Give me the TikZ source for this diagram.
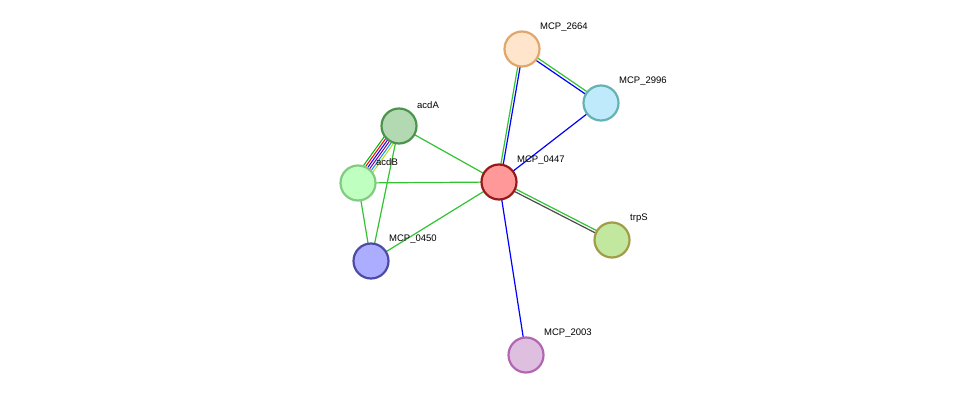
\documentclass[tikz,border=0pt]{standalone}
\usepackage{fontspec}
\setmainfont{Liberation Sans}
\begin{document}
\begin{tikzpicture}[x=1pt,y=-1pt,
  nd/.style={circle,minimum size=35pt,inner sep=0pt,line width=2.2pt},
  lb/.style={font=\fontsize{9.5}{11}\selectfont,anchor=south west,inner sep=1pt},
  e/.style={line width=1.2pt}]
\useasboundingbox (0,0) rectangle (976,401);
\coordinate (p2664) at (522,49);
\coordinate (p2996) at (601,103);
\coordinate (pA) at (399,126);
\coordinate (pB) at (358,183);
\coordinate (p0447) at (499,182);
\coordinate (ptrp) at (612,240);
\coordinate (p0450) at (371,261);
\coordinate (p2003) at (526,355);
% edges
\draw[e,green!70!black!80] ([xshift=-1.2pt]p2664) -- ([xshift=-1.2pt]p0447);
\draw[e,blue] ([xshift=1.2pt]p2664) -- ([xshift=1.2pt]p0447);
\draw[e,green!70!black!80] ([shift={(0.8,-1.2)}]p2664) -- ([shift={(0.8,-1.2)}]p2996);
\draw[e,blue] ([shift={(-0.8,1.2)}]p2664) -- ([shift={(-0.8,1.2)}]p2996);
\draw[e,blue] (p2996) -- (p0447);
\draw[e,green!70!black!80] (pA) -- (p0447);
\draw[e,green!70!black!80] (pB) -- (p0447);
\draw[e,green!70!black!80] (p0450) -- (p0447);
\draw[e,green!70!black!80] ([shift={(0.6,-1.2)}]p0447) -- ([shift={(0.6,-1.2)}]ptrp);
\draw[e,black!70] ([shift={(-0.6,1.2)}]p0447) -- ([shift={(-0.6,1.2)}]ptrp);
\draw[e,blue] (p0447) -- (p2003);
\draw[e,green!70!black!80] (pA) -- (p0450);
\draw[e,green!70!black!80] (pB) -- (p0450);
\foreach \c [count=\i] in {green!70!black,red,blue,violet,cyan!80!blue,yellow!70!green}
  \draw[line width=1pt,\c] ([shift={({(\i-3.5)*2.3*0.81},{(\i-3.5)*2.3*0.58})}]pA) -- ([shift={({(\i-3.5)*2.3*0.81},{(\i-3.5)*2.3*0.58})}]pB);
% nodes
\node[nd,draw=red!55!black!90,fill=red!40] (n0447) at (p0447) {};
\node[nd,draw=brown!70!orange!70,fill=orange!20] (n2664) at (p2664) {};
\node[nd,draw=teal!60,fill=cyan!25] (n2996) at (p2996) {};
\node[nd,draw=green!40!black!70,fill=green!50!black!30!white] (nA) at (pA) {};
\node[nd,draw=green!60!black!50,fill=green!25] (nB) at (pB) {};
\node[nd,draw=olive!80!black!70,fill=yellow!40!green!40] (ntrp) at (ptrp) {};
\node[nd,draw=blue!50!black!70,fill=blue!40!white!80] (n0450) at (p0450) {};
\node[nd,draw=violet!60,fill=violet!25] (n2003) at (p2003) {};
% labels
\node[lb] (l2664) at (539,33) {MCP\_2664};
\node[lb] (l2996) at (618,87) {MCP\_2996};
\node[lb] (lA) at (416,110) {acdA};
\node[lb] (lB) at (375,167) {acdB};
\node[lb] (l0447) at (516,166) {MCP\_0447};
\node[lb] (ltrp) at (629,224) {trpS};
\node[lb] (l0450) at (388,245) {MCP\_0450};
\node[lb] (l2003) at (543,339) {MCP\_2003};
\end{tikzpicture}
\end{document}
